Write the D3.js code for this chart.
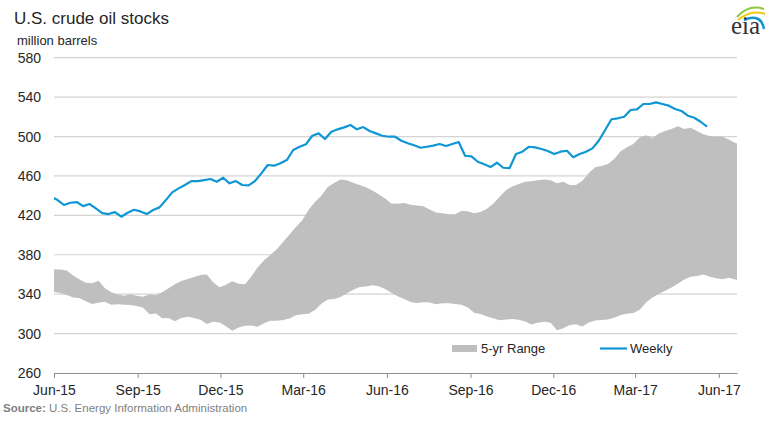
<!DOCTYPE html>
<html>
<head>
<meta charset="utf-8">
<script src="https://cdn.jsdelivr.net/npm/d3@7"></script>
<style>
  html, body { margin: 0; padding: 0; background: #fff; }
  svg { display: block; font-family: "Liberation Sans", Arial, sans-serif; }
</style>
</head>
<body>
<svg id="chart" width="776" height="425"></svg>
<script>
// ---- data ----
const title = "U.S. crude oil stocks";
const unitLabel = "million barrels";
const sourceBold = "Source:";
const sourceText = " U.S. Energy Information Administration";
const seriesNames = ["5-yr Range", "Weekly"];

const xTickDates = ["2015-06-01","2015-09-01","2015-12-01","2016-03-01","2016-06-01","2016-09-01","2016-12-01","2017-03-01","2017-06-01"];
const xTickLabels = ["Jun-15","Sep-15","Dec-15","Mar-16","Jun-16","Sep-16","Dec-16","Mar-17","Jun-17"];
const yTicks = [260, 300, 340, 380, 420, 460, 500, 540, 580];

const weeklyStart = "2015-05-29";   // first weekly observation, one per week
const weeklyValues = [
  438.9, 435.5, 430.5, 432.8, 433.5, 429.4, 431.5, 427.1, 422.3, 421.3, 423.3, 418.6, 422.6, 425.7,
  424.0, 421.3, 425.4, 428.1, 435.5, 443.3, 447.4, 450.8, 454.8, 454.8, 455.8, 456.9, 454.1, 458.2,
  452.5, 454.8, 450.8, 450.4, 454.8, 462.6, 471.1, 470.4, 472.8, 476.1, 486.3, 489.6, 492.1, 500.8,
  503.2, 497.5, 504.9, 507.3, 509.3, 511.7, 507.3, 509.6, 505.6, 503.2, 500.8, 499.8,
  499.8, 495.7, 493.1, 491.1, 488.6, 489.6, 490.7, 492.4, 490.4, 492.4, 494.4, 480.5, 479.9, 474.4,
  471.8, 469.0, 473.4, 468.3, 468.0, 482.2, 484.6, 489.6, 489.0, 487.3, 485.3, 482.2, 484.6, 485.6,
  478.9, 482.2, 484.6, 488.0, 495.7, 506.6, 517.5, 518.5, 520.1, 526.9, 527.6, 533.0, 533.0, 534.7,
  533.0, 531.3, 527.9, 525.9, 521.1, 519.1, 515.0, 510.0
];

const rangeStart = "2015-06-01";    // first week of the 5-yr range band, one per week
const rangeUpper = [
  365, 365, 364, 359, 355, 351.5, 351, 353.5, 346, 341.9, 339.6, 338.5, 340, 338.4, 337.4, 340, 339,
  342, 346, 350, 353.3, 355.4, 357.5, 359.5, 360, 352, 347, 349.5, 353, 350.5, 350, 358, 367.4, 374.5,
  380, 385.5, 393.2, 400.6, 408.3, 415, 425.8, 433.5, 440, 448.8, 452.8, 456.5, 455.7, 453, 450.8,
  448.4, 445.2, 441.5, 437.2, 432,
  431.7, 432.6, 430.8, 430, 429.3, 426, 423, 422.2, 421, 421.2, 424.5, 424.2, 422.1, 423.4, 426.6,
  431.9, 439, 445.5, 449.3, 451.9, 454.1, 454.5, 455.5, 456.5, 455.6, 452.6, 454.1, 450.8, 450.8,
  455.2, 463, 468.8, 470, 472, 477.2, 485.1, 489, 492.3, 499, 501.3, 498.6, 503, 505.5, 507.7, 510.5,
  507.6, 509, 505.6, 502.4, 500.5, 499.8, 499.8, 496.9, 493.4, 492
];
const rangeLower = [
  342.3, 341.3, 339.1, 336.7, 336, 332.7, 330.1, 331.3, 332.3, 329.2, 329.9, 329.2, 328.9, 327.9,
  326.3, 319.5, 320.3, 315.5, 315.8, 312.4, 315.8, 317, 315.8, 314, 309.7, 312, 311.3, 307.4, 302.8,
  306.2, 307.9, 308.1, 306.9, 310.6, 313, 313, 313.7, 315.3, 318.5, 319.7, 320.2, 324, 330.3, 334.5,
  335.1, 337.1, 340.9, 344.6, 347.2, 347.8, 349, 348.1, 345.3, 341.5,
  337.9, 335.2, 332, 331, 331.8, 331.5, 329.8, 330.9, 330.7, 330, 329.2, 326.6, 321.2, 319.8, 317.3,
  315.6, 313.6, 314.3, 314.8, 314.1, 312.3, 309.2, 311, 312, 311, 303.5, 305.3, 308.7, 309.6, 307.3,
  311.2, 313.4, 313.7, 314.2, 316.2, 318.8, 320.2, 320.8, 324.1, 331.5, 336.7, 340.2, 343.4, 346.7,
  350.5, 354.9, 357.8, 358.5, 360, 357.7, 356.1, 355.1, 356.7, 354.8, 353.5
];

// ---- layout ----
const W = 776, H = 425;
const plot = { left: 54, right: 737, top: 57.7, bottom: 373 };
const colors = { band: "#bfbfbf", line: "#0f96d4", grid: "#d4d4d4", axis: "#8c8c8c", text: "#262626", source: "#7f7f7f" };
const font = "'Liberation Sans', Arial, sans-serif";

const parse = d3.utcParse("%Y-%m-%d");
const x = d3.scaleUtc()
  .domain([parse("2015-06-01"), parse("2017-06-21")])
  .range([plot.left, plot.right]);
const y = d3.scaleLinear().domain([260, 580]).range([plot.bottom, plot.top]);

const weekly = weeklyValues.map((v, i) => ({ date: d3.utcDay.offset(parse(weeklyStart), 7 * i), value: v }));
const band = rangeUpper.map((u, i) => ({ date: d3.utcDay.offset(parse(rangeStart), 7 * i), hi: u, lo: rangeLower[i] }));

const svg = d3.select("#chart");

svg.append("defs").append("clipPath").attr("id", "clip")
  .append("rect").attr("x", plot.left).attr("y", 0)
  .attr("width", plot.right - plot.left).attr("height", plot.bottom);

// gridlines
svg.append("g").selectAll("line").data(yTicks.filter(t => t > 260)).join("line")
  .attr("x1", plot.left).attr("x2", plot.right)
  .attr("y1", d => y(d)).attr("y2", d => y(d))
  .attr("stroke", colors.grid).attr("stroke-width", 1.2);

// y labels
svg.append("g").selectAll("text").data(yTicks).join("text")
  .attr("x", 41).attr("y", d => y(d) + 5)
  .attr("text-anchor", "end")
  .attr("font-size", 14).attr("fill", colors.text)
  .text(d => d);

// band
svg.append("path").datum(band)
  .attr("clip-path", "url(#clip)")
  .attr("fill", colors.band)
  .attr("d", d3.area().x(d => x(d.date)).y0(d => y(d.lo)).y1(d => y(d.hi)));

// weekly line
svg.append("path").datum(weekly)
  .attr("clip-path", "url(#clip)")
  .attr("fill", "none").attr("stroke", colors.line).attr("stroke-width", 2.2)
  .attr("stroke-linejoin", "round")
  .attr("d", d3.line().x(d => x(d.date)).y(d => y(d.value)));

// x axis
const xAxis = d3.axisBottom(x)
  .tickValues(xTickDates.map(parse))
  .tickFormat((d, i) => xTickLabels[i])
  .tickSizeInner(5).tickSizeOuter(0).tickPadding(5);
const gx = svg.append("g").attr("transform", `translate(0,${plot.bottom})`).call(xAxis);
gx.select(".domain").attr("stroke", colors.axis).attr("stroke-width", 1.2);
gx.selectAll(".tick line").attr("stroke", colors.axis);
gx.selectAll(".tick text").attr("font-size", 14).attr("font-family", font).attr("fill", colors.text).attr("dy", "0.85em");

// title & unit
svg.append("text").attr("x", 14).attr("y", 24).attr("font-size", 17).attr("fill", colors.text).text(title);
svg.append("text").attr("x", 17).attr("y", 45).attr("font-size", 13).attr("fill", colors.text).text(unitLabel);

// legend
const lg = svg.append("g");
lg.append("rect").attr("x", 452).attr("y", 345).attr("width", 25).attr("height", 7).attr("fill", colors.band);
lg.append("text").attr("x", 481).attr("y", 353).attr("font-size", 13).attr("fill", colors.text).text(seriesNames[0]);
lg.append("line").attr("x1", 600).attr("x2", 627).attr("y1", 348.5).attr("y2", 348.5)
  .attr("stroke", colors.line).attr("stroke-width", 2.2);
lg.append("text").attr("x", 630).attr("y", 353).attr("font-size", 13).attr("fill", colors.text).text(seriesNames[1]);

// source
const src = svg.append("text").attr("x", 3).attr("y", 412).attr("font-size", 11.5).attr("fill", colors.source);
src.append("tspan").attr("font-weight", "bold").text(sourceBold);
src.append("tspan").text(sourceText);

// eia logo
const logo = svg.append("g");
logo.append("path").attr("d", "M737,17 Q749,4 764,9").attr("fill", "none").attr("stroke", "#8dc63f").attr("stroke-width", 2);
logo.append("path").attr("d", "M738,20 Q751,9 765,14").attr("fill", "none").attr("stroke", "#f2c811").attr("stroke-width", 2);
logo.append("path").attr("d", "M744,20 Q761,13 764,29").attr("fill", "none").attr("stroke", "#0f96d4").attr("stroke-width", 2.5);
logo.append("text").attr("x", 731).attr("y", 34)
  .attr("font-family", "'Liberation Serif', 'DejaVu Serif', serif").attr("font-size", 25)
  .attr("fill", "#333").text("eia");
</script>
</body>
</html>
